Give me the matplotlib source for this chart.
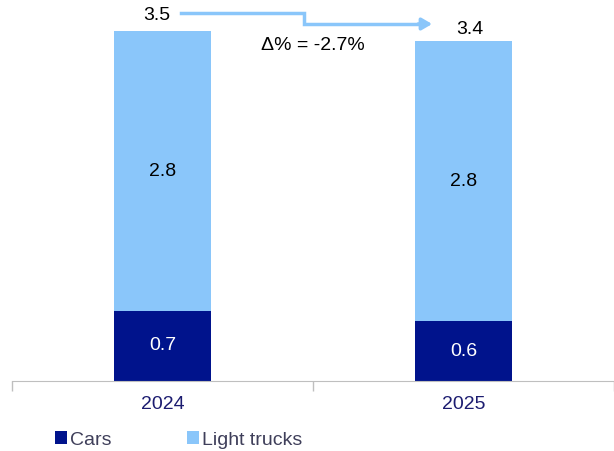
import numpy as np
import matplotlib
matplotlib.use("Agg")
import matplotlib.pyplot as plt

plt.rcParams['font.family'] = ['Liberation Sans', 'DejaVu Sans']

years = ["2024", "2025"]
cars = [0.7, 0.6]
light_trucks = [2.8, 2.8]
totals = [3.5, 3.4]
change_label = "\u0394% = -2.7%"

CARS_COLOR = "#00138c"
TRUCKS_COLOR = "#8ac6fa"
FS = 14

fig = plt.figure(figsize=(6.14, 4.51), dpi=100)
ax = fig.add_axes([12 / 614, 70 / 451, 602 / 614, 381 / 451])

x = np.arange(len(years))
width = 0.32
ax.bar(x, cars, width, color=CARS_COLOR, label="Cars")
ax.bar(x, light_trucks, width, bottom=cars, color=TRUCKS_COLOR, label="Light trucks")

for i in range(len(years)):
    ax.text(x[i], cars[i] / 2, f"{cars[i]:.1f}", ha="center", va="center",
            color="white", fontsize=FS)
    ax.text(x[i], cars[i] + light_trucks[i] / 2, f"{light_trucks[i]:.1f}",
            ha="center", va="center", color="black", fontsize=FS)

# totals above each bar
ax.text(x[0] - 0.02, totals[0] + 0.16, f"{totals[0]:.1f}", ha="center", va="center",
        fontsize=FS)
ax.text(x[1] + 0.02, totals[1] + 0.12, f"{totals[1]:.1f}", ha="center", va="center",
        fontsize=FS)

# elbow arrow between the totals
y1 = totals[0] + 0.18
y2 = totals[1] + 0.17
ax.plot([0.06, 0.47, 0.47, 0.86], [y1, y1, y2, y2], color=TRUCKS_COLOR, lw=2.5,
        solid_joinstyle="miter", clip_on=False)
ax.annotate("", xy=(0.905, y2), xytext=(0.84, y2),
            arrowprops=dict(arrowstyle="-|>,head_length=0.6,head_width=0.35",
                            color=TRUCKS_COLOR, lw=2.5), annotation_clip=False)
ax.text(0.5, 3.36, change_label, ha="center", va="center", fontsize=FS)

ax.set_xlim(-0.5, 1.5)
ax.set_ylim(0, 3.81)
ax.set_yticks([])
ax.set_xticks([-0.5, 0.5, 1.5])
ax.set_xticks(x, minor=True)
ax.set_xticklabels([])
ax.set_xticklabels(years, minor=True)
ax.tick_params(axis="x", which="major", length=7, color="#bfbfbf", width=1)
ax.tick_params(axis="x", which="minor", length=0, pad=11, labelsize=FS,
               labelcolor="#1c1c70")
for side in ["top", "right", "left"]:
    ax.spines[side].set_visible(False)
ax.spines["bottom"].set_color("#bfbfbf")

leg = fig.legend(loc="center left", bbox_to_anchor=(55 / 614, 11 / 451), ncol=2,
                 frameon=False, fontsize=FS, handlelength=0.62, handleheight=0.62,
                 handletextpad=0.15, columnspacing=3.9, borderpad=0,
                 borderaxespad=0)
for t in leg.get_texts():
    t.set_color("#3f3f5a")

fig.savefig("out.png", dpi=100)
